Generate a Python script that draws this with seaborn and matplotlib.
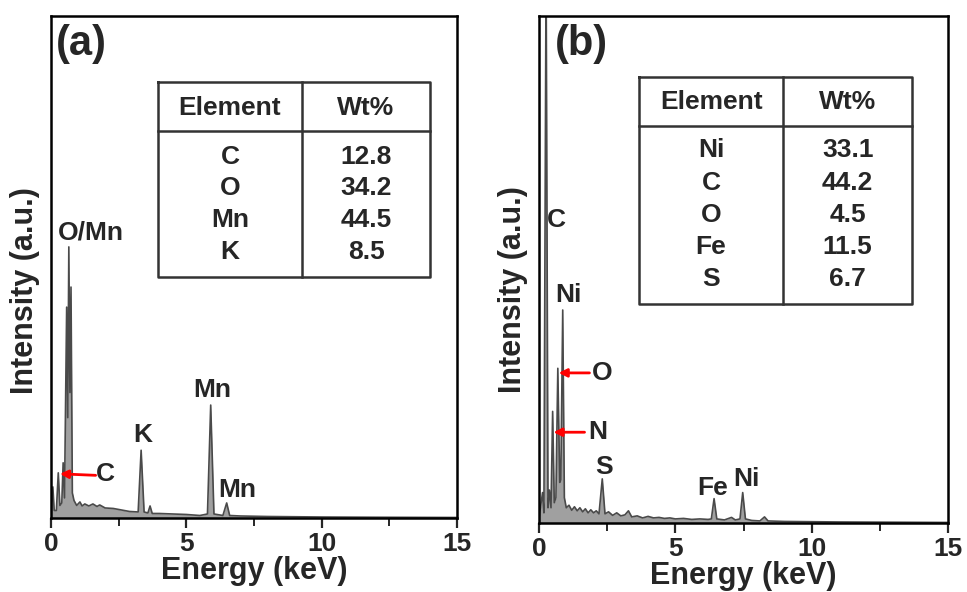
import matplotlib
matplotlib.use("Agg")
import matplotlib.pyplot as plt
import seaborn as sns
import pandas as pd

# -----------------------------
# DATA
# -----------------------------
energy_a = [0.00, 0.07, 0.12, 0.20, 0.27, 0.33, 0.40, 0.45, 0.50, 0.58, 0.62, 0.66,
            0.70, 0.74, 0.79, 0.85, 0.95, 1.07, 1.15, 1.25, 1.40, 1.55, 1.70, 1.80,
            2.00, 2.30, 2.60, 2.90, 3.22, 3.33, 3.44, 3.58, 3.66, 3.74, 4.00, 4.50,
            5.00, 5.50, 5.78, 5.90, 6.02, 6.35, 6.49, 6.60, 7.00, 8.00, 10.0, 12.0, 15.0]
intensity_a = [0.5, 6.2, 1.5, 1.5, 9.0, 2.5, 3.0, 11.0, 4.0, 42.0, 20.0, 54.0,
               25.0, 46.0, 5.0, 3.5, 2.5, 3.2, 2.4, 2.8, 2.4, 2.8, 2.3, 2.6,
               2.0, 1.9, 1.6, 1.3, 1.2, 13.5, 1.2, 1.0, 2.4, 0.9, 0.9, 0.8,
               0.7, 0.5, 0.8, 22.5, 0.8, 0.5, 3.0, 0.5, 0.4, 0.3, 0.2, 0.15, 0.1]

energy_b = [0.00, 0.13, 0.18, 0.26, 0.33, 0.38, 0.44, 0.50, 0.56, 0.62, 0.69, 0.76,
            0.80, 0.87, 0.93, 1.00, 1.10, 1.20, 1.30, 1.40, 1.50, 1.60, 1.70, 1.80,
            1.90, 2.00, 2.10, 2.20, 2.32, 2.42, 2.55, 2.70, 2.85, 3.00, 3.15, 3.28,
            3.40, 3.60, 3.80, 4.00, 4.20, 4.40, 4.60, 4.80, 5.00, 5.30, 5.60, 5.90,
            6.20, 6.32, 6.42, 6.52, 6.80, 7.06, 7.20, 7.37, 7.47, 7.57, 7.80, 8.10,
            8.27, 8.40, 9.00, 11.0, 13.0, 15.0]
intensity_b = [1.0, 6.0, 2.0, 110.0, 3.0, 6.5, 3.0, 22.0, 4.0, 5.0, 30.5, 8.0,
               8.5, 42.0, 5.0, 3.0, 3.5, 2.5, 3.2, 2.4, 3.0, 2.2, 2.8, 2.0,
               2.6, 2.0, 2.4, 1.8, 8.7, 1.8, 2.2, 1.5, 2.0, 1.4, 1.6, 2.4,
               1.2, 1.4, 1.0, 1.3, 1.0, 1.1, 0.9, 1.0, 0.8, 0.9, 0.7, 0.8,
               0.7, 0.8, 4.8, 0.8, 0.6, 1.1, 0.6, 0.8, 6.0, 0.8, 0.5, 0.4,
               1.2, 0.4, 0.3, 0.2, 0.15, 0.1]

# composition tables
elements_a = ["C", "O", "Mn", "K"]
wt_a = ["12.8", "34.2", "44.5", "8.5"]
elements_b = ["Ni", "C", "O", "Fe", "S"]
wt_b = ["33.1", "44.2", "4.5", "11.5", "6.7"]

# peak labels: (text, energy, intensity)
peaks_a = [("O/Mn", 1.48, 56.8), ("K", 3.40, 16.5), ("Mn", 5.95, 25.5), ("Mn", 6.89, 5.6)]
peaks_b = [("C", 0.64, 59.8), ("Ni", 1.08, 45.0), ("S", 2.37, 11.0),
           ("Fe", 6.36, 6.9), ("Ni", 7.61, 8.7)]
# red arrows: (text, tip energy, tip intensity, tail energy, tail intensity, label energy)
arrows_a = [("C", 0.33, 8.8, 1.65, 8.5, 2.0)]
arrows_b = [("O", 0.72, 29.6, 1.85, 29.6, 2.33), ("N", 0.53, 17.9, 1.67, 17.9, 2.15)]

# -----------------------------
# STYLE
# -----------------------------
sns.set_style("ticks")
plt.rcParams["font.family"] = ["Liberation Sans", "DejaVu Sans"]
plt.rcParams["font.weight"] = "bold"
plt.rcParams["axes.labelweight"] = "bold"

fig = plt.figure(figsize=(9.67, 5.92), dpi=100)
ax_a = fig.add_axes([0.0527, 0.125, 0.42, 0.848])
ax_b = fig.add_axes([0.5574, 0.1166, 0.423, 0.8564])


def draw_panel(ax, energy, intensity, tag, tag_x, ylab_xy, peaks, arrows,
               elements, wt, tbl):
    df = pd.DataFrame({"energy": energy, "intensity": intensity})
    ax.fill_between(df["energy"], df["intensity"], color="#a0a0a0", lw=0)
    sns.lineplot(data=df, x="energy", y="intensity", ax=ax, color="#4a4a4a", lw=1.2)

    ax.set_xlim(0, 15)
    ax.set_ylim(0, 100)
    ax.set_xticks([0, 5, 10, 15])
    ax.set_xticks([2.5, 7.5, 12.5], minor=True)
    ax.set_yticks([])
    ax.tick_params(axis="x", which="major", direction="out", length=7, width=1.6,
                   labelsize=19, pad=3)
    ax.tick_params(axis="x", which="minor", direction="out", length=6, width=1.4)
    for s in ax.spines.values():
        s.set_linewidth(1.8)
        s.set_color("black")
    ax.set_xlabel("Energy (keV)", fontsize=22, labelpad=0)
    ax.set_ylabel("Intensity (a.u.)", fontsize=22)
    ax.yaxis.set_label_coords(*ylab_xy)

    ax.text(tag_x, 0.945, tag, transform=ax.transAxes, fontsize=30,
            fontweight="bold", ha="left", va="center")

    for txt, x, y in peaks:
        ax.text(x, y, txt, fontsize=19, fontweight="bold", ha="center", va="center")
    for txt, x0, y0, x1, y1, xl in arrows:
        ax.annotate("", xy=(x0, y0), xytext=(x1, y1),
                    arrowprops=dict(arrowstyle="-|>", color="red", lw=2,
                                    mutation_scale=12, shrinkA=0, shrinkB=0))
        ax.text(xl, y0, txt, fontsize=19, fontweight="bold", ha="center", va="center")

    # composition table drawn in axes coordinates
    left, mid, right, top, head, bottom, head_y, row_y = tbl
    tc = "#333333"
    kw = dict(transform=ax.transAxes, color=tc, lw=1.8, solid_capstyle="projecting")
    ax.plot([left, right, right, left, left], [top, top, bottom, bottom, top], **kw)
    ax.plot([left, right], [head, head], **kw)
    ax.plot([mid, mid], [top, bottom], **kw)
    c1 = (left + mid) / 2
    c2 = (mid + right) / 2
    tkw = dict(transform=ax.transAxes, fontsize=19, fontweight="bold",
               ha="center", va="center")
    ax.text(c1, head_y, "Element", **tkw)
    ax.text(c2, head_y, "Wt%", **tkw)
    for el, w, y in zip(elements, wt, row_y):
        ax.text(c1, y, el, **tkw)
        ax.text(c2, y, w, **tkw)


draw_panel(ax_a, energy_a, intensity_a, "(a)", 0.012, (-0.027, 0.454),
           peaks_a, arrows_a, elements_a, wt_a,
           (0.2635, 0.618, 0.9335, 0.8685, 0.771, 0.480, 0.8167,
            [0.719, 0.657, 0.594, 0.530]))
draw_panel(ax_b, energy_b, intensity_b, "(b)", 0.039, (-0.027, 0.46),
           peaks_b, arrows_b, elements_b, wt_b,
           (0.2445, 0.597, 0.912, 0.8797, 0.783, 0.432, 0.830,
            [0.736, 0.671, 0.607, 0.544, 0.481]))

fig.savefig("out.png", dpi=100)
